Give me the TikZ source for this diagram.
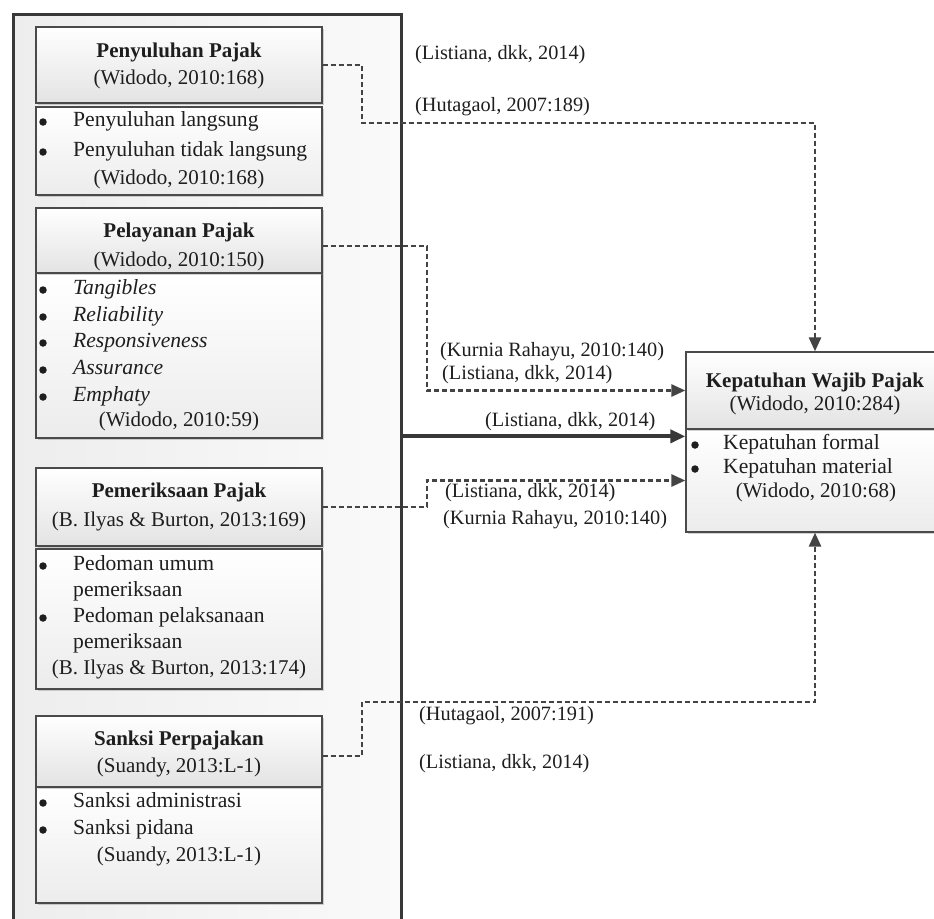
\documentclass[tikz,border=0pt]{standalone}
\usepackage{fontspec}
\setmainfont{Liberation Serif}
\usetikzlibrary{arrows.meta,shadows,calc}
\definecolor{edge}{HTML}{4A4A4A}
\definecolor{frame}{HTML}{383838}
\definecolor{ink}{HTML}{1E1E1E}
\definecolor{conn}{HTML}{444444}
\tikzset{
  outerbox/.style={draw=frame, line width=3pt, left color=gray!14, right color=gray!4, inner sep=0pt},
  hdr/.style={draw=edge, line width=1.3pt, top color=white, bottom color=gray!22,
    drop shadow={shadow xshift=1.5pt, shadow yshift=-1.5pt, opacity=0.35, fill=gray},
    minimum width=286pt, inner sep=0pt},
  bodybox/.style={draw=edge, line width=1.3pt, top color=white, bottom color=gray!15,
    drop shadow={shadow xshift=1.5pt, shadow yshift=-1.5pt, opacity=0.35, fill=gray},
    minimum width=286pt, inner sep=0pt},
  txt/.style={inner sep=0pt, text=ink, font=\fontsize{21pt}{27pt}\selectfont, text height=14pt, text depth=5pt},
  item/.style={txt, anchor=west, font=\fontsize{21.6pt}{27pt}\selectfont},
  lbl/.style={txt, anchor=west, font=\fontsize{20.3pt}{26pt}\selectfont},
  bul/.style={circle, fill=ink, inner sep=0pt, minimum size=7.5pt},
  dashconn/.style={draw=conn, line width=2.7pt, dash pattern=on 5pt off 3pt,
    -{Triangle[length=14pt,width=12pt]}},
  solidconn/.style={draw=frame, line width=4pt, -{Triangle[length=15pt,width=13pt]}},
}
\begin{document}
\begin{tikzpicture}[x=1pt,y=-1pt]
\useasboundingbox (0,0) rectangle (934,918);
\clip (0,0) rectangle (934,918);
\fill[white] (0,0) rectangle (934,918);

% outer frame
\node[outerbox, anchor=north west, minimum width=388pt, minimum height=1000pt] (outer) at (12,13) {};

% box 1
\node[hdr, minimum height=76pt] (h1) at (179,65) {};
\node[bodybox, minimum height=88pt] (b1) at (179,151) {};
\node[txt] (t1) at (179,53) {\textbf{Penyuluhan Pajak}};
\node[txt] (c1) at (179,80) {(Widodo, 2010:168)};
\node[bul] (p1a) at (43,122) {};
\node[item] (i1a) at (73,122) {Penyuluhan langsung};
\node[bul] (p1b) at (43,152) {};
\node[item] (i1b) at (73,152) {Penyuluhan tidak langsung};
\node[txt] (r1) at (179,180) {(Widodo, 2010:168)};

% box 2
\node[bodybox, minimum height=165pt] (b2) at (179,355.5) {};
\node[hdr, minimum height=65pt] (h2) at (179,240.5) {};
\node[txt] (t2) at (179,233) {\textbf{Pelayanan Pajak}};
\node[txt] (c2) at (179,262) {(Widodo, 2010:150)};
\node[bul] (p2a) at (43,290) {};
\node[item] (i2a) at (73,290) {\textit{Tangibles}};
\node[bul] (p2b) at (43,317) {};
\node[item] (i2b) at (73,317) {\textit{Reliability}};
\node[bul] (p2c) at (43,343) {};
\node[item] (i2c) at (73,343) {\textit{Responsiveness}};
\node[bul] (p2d) at (43,370) {};
\node[item] (i2d) at (73,370) {\textit{Assurance}};
\node[bul] (p2e) at (43,397) {};
\node[item] (i2e) at (73,397) {\textit{Emphaty}};
\node[txt] (r2) at (179,422) {(Widodo, 2010:59)};

% box 3
\node[hdr, minimum height=78pt] (h3) at (179,507) {};
\node[bodybox, minimum height=140pt] (b3) at (179,619) {};
\node[txt] (t3) at (179,493) {\textbf{Pemeriksaan Pajak}};
\node[txt] (c3) at (179,522) {(B. Ilyas \& Burton, 2013:169)};
\node[bul] (p3a) at (43,566) {};
\node[item] (i3a) at (73,566) {Pedoman umum};
\node[item] (i3b) at (73,592) {pemeriksaan};
\node[bul] (p3c) at (43,618) {};
\node[item] (i3c) at (73,618) {Pedoman pelaksanaan};
\node[item] (i3d) at (73,644) {pemeriksaan};
\node[txt] (r3) at (179,670) {(B. Ilyas \& Burton, 2013:174)};

% box 4
\node[bodybox, minimum height=116pt] (b4) at (179,845) {};
\node[hdr, minimum height=71pt] (h4) at (179,751.5) {};
\node[txt] (t4) at (179,741) {\textbf{Sanksi Perpajakan}};
\node[txt] (c4) at (179,768) {(Suandy, 2013:L-1)};
\node[bul] (p4a) at (43,803) {};
\node[item] (i4a) at (73,803) {Sanksi administrasi};
\node[bul] (p4b) at (43,830) {};
\node[item] (i4b) at (73,830) {Sanksi pidana};
\node[txt] (r4) at (179,857) {(Suandy, 2013:L-1)};

% right box
\node[bodybox, minimum width=258pt, minimum height=103pt] (Rb) at (815,480.5) {};
\node[hdr, minimum width=258pt, minimum height=77pt] (R) at (815,390.5) {};
\node[txt] (tR) at (815,383) {\textbf{Kepatuhan Wajib Pajak}};
\node[txt] (cR) at (815,406) {(Widodo, 2010:284)};
\node[bul] (pRa) at (695,445) {};
\node[item] (iRa) at (723,445) {Kepatuhan formal};
\node[bul] (pRb) at (695,469) {};
\node[item] (iRb) at (723,469) {Kepatuhan material};
\node[txt] (rR) at (816,493) {(Widodo, 2010:68)};

% connectors
\coordinate (k1) at (362,123);
\draw[dashconn] (h1.east) -| (k1) -| (R.north);

\coordinate (s2) at ($(h2.east)+(0,5.5)$);
\coordinate (k2) at (427,390.5);
\draw[dashconn] (s2) -| (k2) -- (R.west);

\coordinate (tA) at ($(Rb.north west)+(0,8)$);
\draw[solidconn] (outer.east |- tA) -- (tA);

\coordinate (k3) at (427,480.5);
\draw[dashconn] (h3.east) -| (k3) -- (Rb.west);

\coordinate (s4) at ($(h4.east)+(0,4.5)$);
\coordinate (k4) at (362,702);
\draw[dashconn] (s4) -| (k4) -| (Rb.south);

% labels
\node[lbl] (l1) at (415,55) {(Listiana, dkk, 2014)};
\node[lbl] (l2) at (415,107) {(Hutagaol, 2007:189)};
\node[lbl] (l3) at (440,352) {(Kurnia Rahayu, 2010:140)};
\node[lbl] (l4) at (442,375) {(Listiana, dkk, 2014)};
\node[lbl] (l5) at (485,422) {(Listiana, dkk, 2014)};
\node[lbl] (l6) at (445,493) {(Listiana, dkk, 2014)};
\node[lbl] (l7) at (443,520) {(Kurnia Rahayu, 2010:140)};
\node[lbl] (l8) at (419,716) {(Hutagaol, 2007:191)};
\node[lbl] (l9) at (419,764) {(Listiana, dkk, 2014)};
\end{tikzpicture}
\end{document}
